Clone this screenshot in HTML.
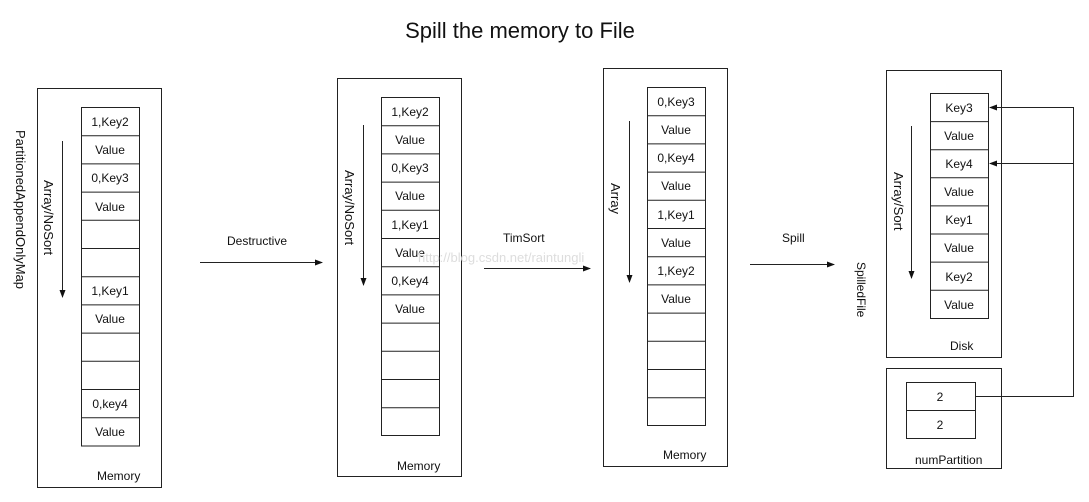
<!DOCTYPE html>
<html><head><meta charset="utf-8"><style>body{margin:0;background:#fff}svg{display:block}text{font-family:"Liberation Sans",sans-serif;fill:#111}</style></head><body>
<svg width="1089" height="502" viewBox="0 0 1089 502" xmlns="http://www.w3.org/2000/svg">
<defs><marker id="a" markerWidth="8" markerHeight="8" refX="7" refY="3" orient="auto" markerUnits="userSpaceOnUse"><path d="M0,0 L8,3 L0,6 z" fill="#111"/></marker></defs>
<text x="520" y="38" font-size="22" text-anchor="middle">Spill the memory to File</text>
<g fill="none" stroke="#222" stroke-width="1">
<rect x="37.5" y="88.5" width="124" height="399"/>
<rect x="81.5" y="107.5" width="58" height="338.5"/>
<path d="M81 135.7h58M81 163.9h58M81 192.1h58M81 220.3h58M81 248.5h58M81 276.7h58M81 304.9h58M81 333.1h58M81 361.3h58M81 389.5h58M81 417.7h58"/>
<rect x="337.5" y="78.5" width="124" height="398"/>
<rect x="381.5" y="97.5" width="58" height="338"/>
<path d="M381 125.7h58M381 153.9h58M381 182.1h58M381 210.3h58M381 238.5h58M381 266.7h58M381 294.9h58M381 323.1h58M381 351.3h58M381 379.5h58M381 407.7h58"/>
<rect x="603.5" y="68.5" width="124" height="398"/>
<rect x="647.5" y="87.5" width="58" height="338"/>
<path d="M647 115.7h58M647 143.9h58M647 172.1h58M647 200.3h58M647 228.5h58M647 256.7h58M647 284.9h58M647 313.1h58M647 341.3h58M647 369.5h58M647 397.7h58"/>
<rect x="886.5" y="70.5" width="115" height="287"/>
<rect x="930.5" y="93.5" width="58" height="225"/>
<path d="M930 121.6h58M930 149.7h58M930 177.8h58M930 205.9h58M930 234h58M930 262.1h58M930 290.2h58"/>
<rect x="886.5" y="368.5" width="115" height="100"/>
<rect x="906.5" y="382.5" width="69" height="56"/>
<path d="M906 410.5h69"/>
<path d="M975 396.5H1073.5V107.5H990" marker-end="url(#a)"/>
<path d="M1073 163.5H990" marker-end="url(#a)"/>
<path d="M62.5 141V297" marker-end="url(#a)"/>
<path d="M363.5 125V285" marker-end="url(#a)"/>
<path d="M629.5 121V282" marker-end="url(#a)"/>
<path d="M911.5 126V278" marker-end="url(#a)"/>
<path d="M200 262.5H322" marker-end="url(#a)"/>
<path d="M484 268.5H590" marker-end="url(#a)"/>
<path d="M750 264.5H834" marker-end="url(#a)"/>
</g>
<g font-size="12" text-anchor="middle">
<text x="110" y="126">1,Key2</text><text x="110" y="154">Value</text><text x="110" y="182">0,Key3</text><text x="110" y="211">Value</text><text x="110" y="295">1,Key1</text><text x="110" y="323">Value</text><text x="110" y="408">0,key4</text><text x="110" y="436">Value</text>
<text x="410" y="116">1,Key2</text><text x="410" y="144">Value</text><text x="410" y="172">0,Key3</text><text x="410" y="200">Value</text><text x="410" y="229">1,Key1</text><text x="410" y="257">Value</text><text x="410" y="285">0,Key4</text><text x="410" y="313">Value</text>
<text x="676" y="106">0,Key3</text><text x="676" y="134">Value</text><text x="676" y="162">0,Key4</text><text x="676" y="190">Value</text><text x="676" y="219">1,Key1</text><text x="676" y="247">Value</text><text x="676" y="275">1,Key2</text><text x="676" y="303">Value</text>
<text x="959" y="112">Key3</text><text x="959" y="140">Value</text><text x="959" y="168">Key4</text><text x="959" y="196">Value</text><text x="959" y="224">Key1</text><text x="959" y="252">Value</text><text x="959" y="281">Key2</text><text x="959" y="309">Value</text>
<text x="940" y="401">2</text><text x="940" y="429">2</text>
</g>
<g font-size="12">
<text x="97" y="480">Memory</text><text x="397" y="470">Memory</text><text x="663" y="459">Memory</text><text x="950" y="350">Disk</text><text x="915" y="464">numPartition</text>
<text x="227" y="245">Destructive</text><text x="503" y="242">TimSort</text><text x="782" y="242">Spill</text>
<text transform="translate(16,130) rotate(90)" font-size="13">PartitionedAppendOnlyMap</text>
<text transform="translate(44,180) rotate(90)" font-size="13">Array/NoSort</text>
<text transform="translate(345,170) rotate(90)" font-size="13">Array/NoSort</text>
<text transform="translate(611,183) rotate(90)" font-size="13">Array</text>
<text transform="translate(894,172) rotate(90)" font-size="13">Array/Sort</text>
<text transform="translate(857,262) rotate(90)">SpilledFile</text>
</g>
<text x="418" y="262" font-size="13" font-family="Liberation Serif" style="fill:#ddd">http://blog.csdn.net/raintungli</text>
</svg>
</body></html>
